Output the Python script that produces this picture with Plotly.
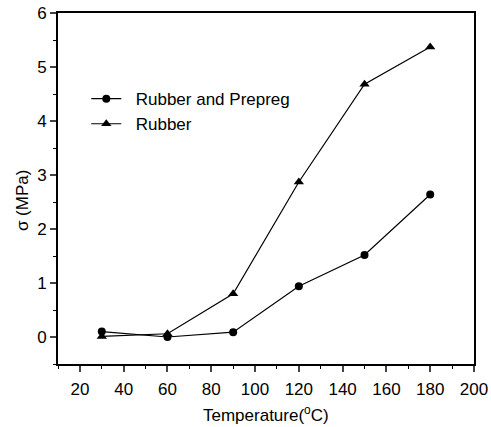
import plotly.graph_objects as go

temps = [30, 60, 90, 120, 150, 180]
rubber_prepreg = [0.10, 0.00, 0.09, 0.94, 1.52, 2.64]
rubber = [0.01, 0.06, 0.80, 2.87, 4.68, 5.37]

x_ticks = [20, 40, 60, 80, 100, 120, 140, 160, 180, 200]
y_ticks = [0, 1, 2, 3, 4, 5, 6]

x_title = "Temperature(<sup>o</sup>C)"
y_title = "σ (MPa)"
names = ["Rubber and Prepreg", "Rubber"]

font_family = "Arial, Liberation Sans, sans-serif"
NB = "\u00a0\u00a0"

fig = go.Figure()
fig.add_trace(go.Scatter(
    x=temps, y=rubber_prepreg, mode="lines+markers", name=NB + names[0],
    line=dict(color="black", width=1.2),
    marker=dict(symbol="circle", size=8, color="black"),
))
fig.add_trace(go.Scatter(
    x=temps, y=rubber, mode="lines+markers", name=NB + names[1],
    line=dict(color="black", width=1.2),
    marker=dict(symbol="triangle-up", size=9, color="black"),
))

fig.update_layout(
    width=491, height=427,
    margin=dict(l=58, r=17, t=13, b=63, autoexpand=False),
    paper_bgcolor="white", plot_bgcolor="white",
    font=dict(family=font_family, size=17, color="black"),
    showlegend=True,
    legend=dict(x=0.068, y=0.806, xanchor="left", yanchor="top",
                bgcolor="rgba(0,0,0,0)", font=dict(size=17),
                tracegroupgap=0, itemwidth=30),
    xaxis=dict(
        range=[10, 200], tickvals=x_ticks, ticks="outside", ticklen=6, tickwidth=1.5,
        showline=True, linecolor="black", linewidth=2, mirror=True,
        showgrid=False, zeroline=False, automargin=False, ticklabelstandoff=3,
        minor=dict(dtick=10, tick0=0, ticks="outside", ticklen=3, tickwidth=1.2, tickcolor="black"),
        tickfont=dict(size=17),
    ),
    yaxis=dict(
        range=[-0.5, 6], tickvals=y_ticks, ticks="outside", ticklen=6, tickwidth=1.5,
        showline=True, linecolor="black", linewidth=2, mirror=True,
        showgrid=False, zeroline=False, automargin=False,
        minor=dict(dtick=0.5, tick0=0, ticks="outside", ticklen=3, tickwidth=1.2, tickcolor="black"),
        tickfont=dict(size=17),
    ),
    annotations=[
        dict(text=x_title, xref="paper", yref="paper", x=0.5, y=-0.143,
             xanchor="center", yanchor="middle", showarrow=False, font=dict(size=17)),
        dict(text=y_title, xref="paper", yref="paper", x=-0.0865, y=0.467,
             xanchor="center", yanchor="middle", showarrow=False, textangle=-90,
             font=dict(size=17)),
    ],
)

fig.write_html("out.html")
